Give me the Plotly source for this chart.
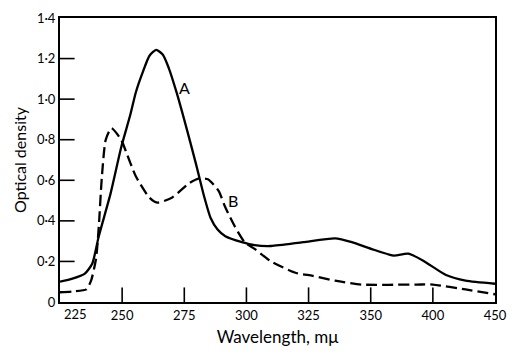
import numpy as np
import plotly.graph_objects as go

# Axis tick wavelengths (the original scale is compressed beyond 350 mμ)
tick_wl = [225, 250, 275, 300, 325, 350, 400, 450]
tick_y = [0, 0.2, 0.4, 0.6, 0.8, 1.0, 1.2, 1.4]
tick_y_text = ["0", "0·2", "0·4", "0·6", "0·8", "1·0", "1·2", "1·4"]

# Curve A (solid)
wl_a = [225, 230, 235, 238, 240.6, 245.3, 249.6, 253.2, 255.5, 258.3, 261.0,
        263.7, 266.4, 268.8, 271.9, 275.9, 279.8, 282.9, 285.6, 288.4, 291.5,
        298.2, 303.3, 309.9, 322.8, 335.7, 342.4, 350.4, 368.4, 380, 391.9,
        410.6, 426.3, 450]
od_a = [0.10, 0.115, 0.14, 0.19, 0.324, 0.533, 0.762, 0.919, 1.033, 1.133, 1.214,
        1.243, 1.219, 1.152, 1.033, 0.857, 0.676, 0.524, 0.414, 0.357, 0.324,
        0.295, 0.28, 0.276, 0.295, 0.314, 0.295, 0.262, 0.229, 0.238, 0.205,
        0.133, 0.105, 0.09]

# Curve B (dashed)
wl_b = [225, 230, 235.6, 237.5, 239.5, 240.6, 241.8, 243.4, 245.7, 249.6, 251.6,
        255.5, 261, 264.1, 270, 277, 281, 284.5, 288.8, 291.5, 295.4, 299.3,
        303.3, 309.9, 320, 326.7, 335.7, 346.3, 387, 400, 426.3, 450]
od_b = [0.048, 0.052, 0.062, 0.105, 0.214, 0.37, 0.61, 0.8, 0.857, 0.8, 0.74,
        0.62, 0.514, 0.49, 0.514, 0.586, 0.61, 0.605, 0.548, 0.467, 0.371, 0.295,
        0.262, 0.2, 0.143, 0.129, 0.105, 0.086, 0.086, 0.086, 0.062, 0.038]

labels = ["A", "B"]
label_wl = [275.1, 294.6]
label_od = [1.057, 0.5]

tick_pos = list(range(len(tick_wl)))


def to_pos(w):
    return np.interp(w, tick_wl, tick_pos)


FONT = "Lato"
W, H = 517, 354
M = dict(l=60, r=10, t=13, b=49)
plot_w = W - M["l"] - M["r"]
plot_h = H - M["t"] - M["b"]
TICK_PX = 15

fig = go.Figure()
fig.add_trace(go.Scatter(x=to_pos(wl_a), y=od_a, mode="lines",
                         line=dict(color="black", width=2.3, shape="spline", smoothing=0.6),
                         showlegend=False, hoverinfo="skip"))
fig.add_trace(go.Scatter(x=to_pos(wl_b), y=od_b, mode="lines",
                         line=dict(color="black", width=2.3, shape="spline", smoothing=0.6,
                                   dash="11px,5px"),
                         showlegend=False, hoverinfo="skip"))

for t, w, v in zip(labels, label_wl, label_od):
    fig.add_annotation(x=float(to_pos(w)), y=v, text=t, showarrow=False,
                       xanchor="center", yanchor="middle",
                       font=dict(family=FONT, size=16, color="black"))

# inward tick marks
for p in tick_pos[1:-1]:
    fig.add_shape(type="line", xref="x", yref="y domain", x0=p, x1=p,
                  y0=0, y1=TICK_PX / plot_h, line=dict(color="black", width=1.6))
for v in tick_y[1:-1]:
    fig.add_shape(type="line", xref="x domain", yref="y", x0=0, x1=TICK_PX / plot_w,
                  y0=v, y1=v, line=dict(color="black", width=1.6))

# first x tick label sits just right of the corner
fig.add_annotation(xref="x", yref="y domain", x=tick_pos[0], y=0, text=str(tick_wl[0]),
                   showarrow=False, xanchor="left", yanchor="top", xshift=2, yshift=-2,
                   font=dict(family=FONT, size=13, color="black"))

fig.update_layout(
    width=W, height=H,
    margin=M,
    paper_bgcolor="white", plot_bgcolor="white",
    font=dict(family=FONT, color="black"),
)
fig.update_xaxes(
    range=[0, 7], tickmode="array", tickvals=tick_pos,
    ticktext=[""] + [str(w) for w in tick_wl[1:]],
    ticks="", showline=True, linecolor="black", linewidth=2, mirror=True,
    showgrid=False, zeroline=False,
    tickfont=dict(family=FONT, size=13, color="black"),
    title=dict(text="Wavelength, mμ", font=dict(family=FONT, size=17, color="black"), standoff=10),
)
fig.update_yaxes(
    range=[0, 1.4], tickmode="array", tickvals=tick_y, ticktext=tick_y_text,
    ticks="", showline=True, linecolor="black", linewidth=2, mirror=True,
    showgrid=False, zeroline=False,
    tickfont=dict(family=FONT, size=13, color="black"),
    title=dict(text="Optical density", font=dict(family=FONT, size=16, color="black"), standoff=6),
)

fig.write_html("out.html")
